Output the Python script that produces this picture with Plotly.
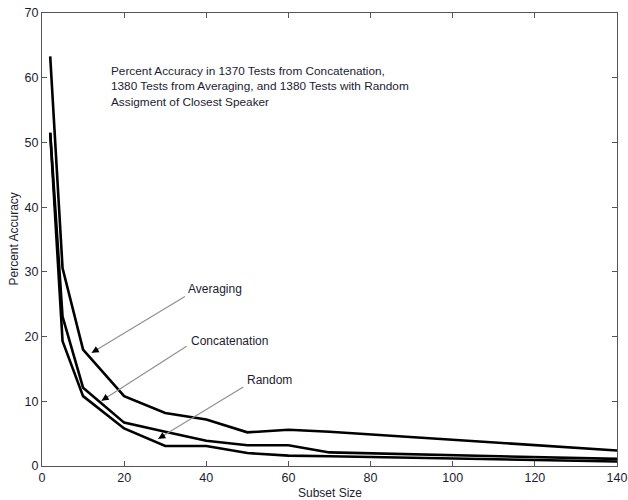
import plotly.graph_objects as go

subset_size = [2, 5, 10, 20, 30, 40, 50, 60, 70, 140]
averaging = [63.3, 30.6, 18.0, 10.8, 8.2, 7.2, 5.2, 5.6, 5.3, 2.4]
concatenation = [51.5, 23.1, 12.1, 6.7, 5.3, 3.9, 3.2, 3.2, 2.1, 1.1]
random_assign = [51.5, 19.3, 10.8, 5.8, 3.1, 3.1, 2.0, 1.6, 1.5, 0.7]

x_ticks = [0, 20, 40, 60, 80, 100, 120, 140]
y_ticks = [0, 10, 20, 30, 40, 50, 60, 70]

title_text = ("Percent Accuracy in 1370 Tests from Concatenation,<br>"
              "1380 Tests from Averaging, and 1380 Tests with Random<br>"
              "Assigment of Closest Speaker")

labels = ["Averaging", "Concatenation", "Random"]
label_pos = [(35.0, 27.3), (35.7, 19.3), (49.4, 13.3)]
arrow_tail = [(34.8, 26.2), (35.2, 18.5), (49.0, 12.2)]
arrow_tip = [(12.1, 17.5), (14.5, 10.1), (28.3, 4.2)]

font_fam = "Liberation Sans, Arial, Helvetica, sans-serif"
txt_col = "#1c1c30"

W, H = 628, 500
ML, MR, MT, MB = 42, 11, 13, 34
PW, PH = W - ML - MR, H - MT - MB

fig = go.Figure()
for name, ys in [("Averaging", averaging), ("Concatenation", concatenation), ("Random", random_assign)]:
    fig.add_trace(go.Scatter(x=subset_size, y=ys, mode="lines", name=name,
                             line=dict(color="black", width=2.6), showlegend=False))

shapes = []
annotations = [dict(x=16.2, y=62.5, xref="x", yref="y", text=title_text, showarrow=False,
                    xanchor="left", yanchor="top", align="left",
                    font=dict(family=font_fam, size=11.8, color=txt_col))]
for lab, (lx, ly) in zip(labels, label_pos):
    annotations.append(dict(x=lx, y=ly, xref="x", yref="y", text=lab, showarrow=False,
                            xanchor="left", yanchor="middle",
                            font=dict(family=font_fam, size=12, color=txt_col)))

px_per_x = PW / 140.0
px_per_y = PH / 70.0
for (tx, ty), (hx, hy) in zip(arrow_tail, arrow_tip):
    shapes.append(dict(type="line", xref="x", yref="y", x0=tx, y0=ty, x1=hx, y1=hy,
                       line=dict(color="#909090", width=1.2)))
    dxp = (tx - hx) * px_per_x
    dyp = -(ty - hy) * px_per_y
    L = (dxp ** 2 + dyp ** 2) ** 0.5
    annotations.append(dict(x=hx, y=hy, xref="x", yref="y",
                            ax=dxp / L * 9, ay=dyp / L * 9,
                            text="", showarrow=True,
                            arrowhead=2, arrowsize=1.0, arrowwidth=1.4, arrowcolor="black"))

# axis titles
annotations.append(dict(x=(13 - ML) / PW, y=0.5, xref="paper", yref="paper",
                        text="Percent Accuracy", textangle=-90, showarrow=False,
                        xanchor="center", yanchor="middle",
                        font=dict(family=font_fam, size=12, color=txt_col)))
annotations.append(dict(x=0.5, y=1 - (493 - MT) / PH, xref="paper", yref="paper",
                        text="Subset Size", showarrow=False,
                        xanchor="center", yanchor="middle",
                        font=dict(family=font_fam, size=12, color=txt_col)))

axis_common = dict(showgrid=False, zeroline=False, showline=True, linecolor="#555",
                   linewidth=1.3, mirror="ticks", ticks="inside", ticklen=5,
                   tickcolor="#555", automargin=False, ticklabeloverflow="allow",
                   tickfont=dict(family=font_fam, size=12.5, color=txt_col))

fig.update_layout(
    width=W, height=H,
    margin=dict(l=ML, r=MR, t=MT, b=MB),
    paper_bgcolor="white", plot_bgcolor="white",
    xaxis=dict(range=[0, 140], tickvals=x_ticks, **axis_common),
    yaxis=dict(range=[0, 70], tickvals=y_ticks, **axis_common),
    shapes=shapes,
    annotations=annotations,
)

fig.write_html("out.html", config={"displayModeBar": False},
               post_script=["document.body.style.margin='0';document.body.style.overflow='hidden';"])
